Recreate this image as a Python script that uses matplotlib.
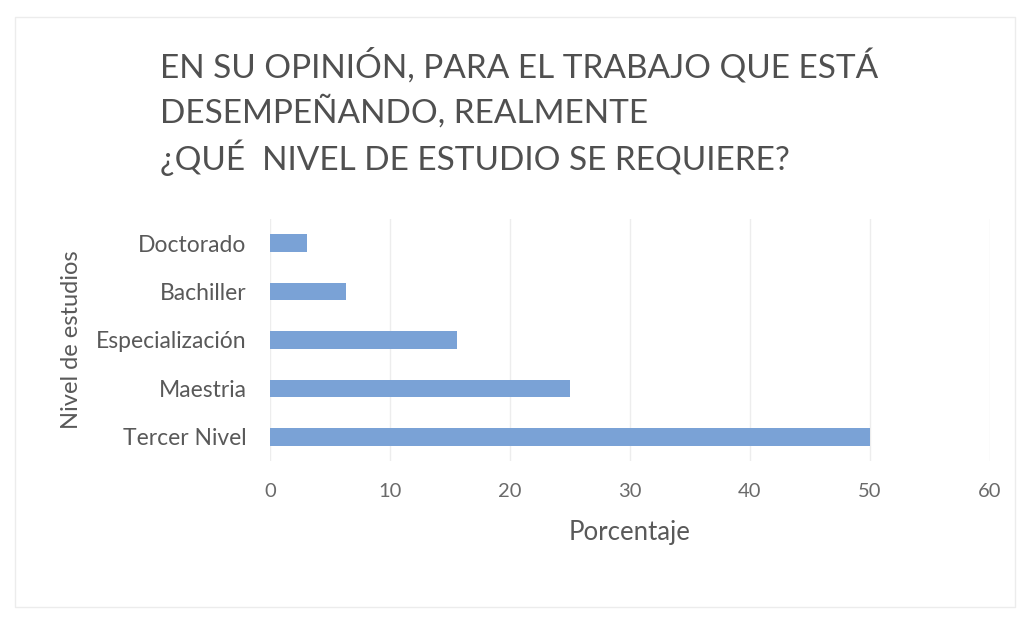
import matplotlib.pyplot as plt
from matplotlib.patches import Rectangle

niveles = ["Tercer Nivel", "Maestria", "Especialización", "Bachiller", "Doctorado"]
porcentajes = [50.0, 25.0, 15.6, 6.3, 3.1]
ticks_x = [0, 10, 20, 30, 40, 50, 60]

titulo = ["EN SU OPINIÓN, PARA EL TRABAJO QUE ESTÁ",
          "DESEMPEÑANDO, REALMENTE",
          "¿QUÉ  NIVEL DE ESTUDIO SE REQUIERE?"]

plt.rcParams['font.family'] = ['Lato', 'DejaVu Sans']
gris = '#595959'

fig = plt.figure(figsize=(10.21, 6.17), dpi=100)
ax = fig.add_axes([270/1021, 1 - 461/617, 720/1021, 242/617])

ax.barh(niveles, porcentajes, height=0.36, color='#7aa2d6')
ax.set_xlim(0, 60)
ax.set_ylim(-0.5, 4.5)
ax.set_xticks(ticks_x)
ax.grid(axis='x', color='#ededed', linewidth=1)
ax.set_axisbelow(True)
for s in ax.spines.values():
    s.set_visible(False)
ax.tick_params(length=0, colors=gris)
ax.tick_params(axis='x', pad=16, labelsize=14.5, labelcolor='#6a6a6a')
ax.tick_params(axis='y', pad=17, labelsize=16.5)

ax.set_xlabel("Porcentaje", fontsize=18.5, color=gris, labelpad=14)
ax.set_ylabel("Nivel de estudios", fontsize=17, color=gris, labelpad=10)

for i, linea in enumerate(titulo):
    fig.text(160/1021, 1 - (66 + i*46)/617, linea, fontsize=24, color='#505050',
             ha='left', va='center')

# marco del gráfico
fig.patches.append(Rectangle((15/1021, 10/617), 1000/1021, 590/617,
                             transform=fig.transFigure, fill=False,
                             edgecolor='#ececec', linewidth=1))

fig.savefig("out.png", dpi=100)
